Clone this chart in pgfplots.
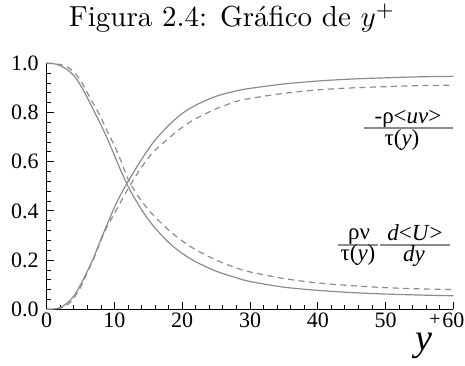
\documentclass[border=0pt]{standalone}
\usepackage{fontspec}
\usepackage{graphicx}
\usepackage{pgfplots}
\pgfplotsset{compat=1.18}
\newfontfamily\timesfont{Liberation Serif}
\definecolor{curvegray}{RGB}{140,140,140}

% viscous stress fraction (solid) and its dashed counterpart
\pgfplotstableread{
x y
0 1.0
1 0.999
2 0.99
3 0.975
4 0.95
5 0.91
6 0.86
7 0.805
8 0.75
9 0.69
10 0.625
11 0.56
12 0.50
13 0.45
14 0.405
15 0.365
16 0.33
17 0.30
18 0.272
19 0.248
20 0.227
22 0.193
25 0.155
28 0.128
30 0.113
35 0.09
40 0.077
45 0.068
50 0.062
55 0.058
60 0.055
}\viscsolid
\pgfplotstableread{
x y
0 1.0
2 0.995
3 0.985
4 0.965
5 0.93
6 0.88
7 0.83
8 0.78
9 0.72
10 0.665
11 0.60
12 0.53
13 0.48
14 0.44
15 0.405
16 0.375
18 0.322
20 0.278
22 0.242
25 0.20
28 0.168
30 0.152
35 0.125
40 0.107
45 0.096
50 0.088
55 0.083
60 0.08
}\viscdash
% turbulent (Reynolds) stress fraction
\pgfplotstableread{
x y
0 0.0
1 0.001
2 0.007
3 0.025
4 0.054
5 0.10
6 0.155
7 0.215
8 0.285
9 0.35
10 0.415
11 0.47
12 0.52
13 0.565
14 0.61
15 0.65
16 0.688
18 0.748
20 0.796
22 0.83
25 0.866
28 0.888
30 0.898
35 0.916
40 0.928
45 0.936
50 0.941
55 0.945
60 0.947
}\turbsolid
\pgfplotstableread{
x y
0 0.0
2 0.004
3 0.018
4 0.045
5 0.09
6 0.15
7 0.21
8 0.28
9 0.34
10 0.39
11 0.44
12 0.49
13 0.535
14 0.578
15 0.615
16 0.647
18 0.695
20 0.74
22 0.775
25 0.815
28 0.845
30 0.857
35 0.878
40 0.892
45 0.90
50 0.905
55 0.909
60 0.911
}\turbdash

\begin{document}
\begin{tikzpicture}[x=1pt,y=1pt]
\useasboundingbox (0,0) rectangle (465,366);
\node[anchor=base, inner sep=0pt] at (232,339) {\scalebox{2.9}{Figura 2.4: Gráfico de $y^+$}};
\begin{axis}[
  at={(46.7pt,56.7pt)}, anchor=south west,
  scale only axis, width=406.6pt, height=246pt,
  xmin=0, xmax=60, ymin=0, ymax=1,
  axis x line=bottom, axis y line=left,
  axis line style={-, line width=1pt, black},
  xtick={0,10,20,30,40,50,60}, ytick={0,0.2,0.4,0.6,0.8,1},
  minor x tick num=4, minor y tick num=4,
  tick align=inside,
  major tick length=7pt, minor tick length=4pt,
  every tick/.style={black, line width=0.8pt},
  /pgf/number format/assume math mode=true,
  tick label style={font=\timesfont\fontsize{22}{24}\selectfont, inner sep=0pt},
  xticklabel style={yshift=-3pt},
  yticklabel style={xshift=-8pt, /pgf/number format/fixed, /pgf/number format/fixed zerofill, /pgf/number format/precision=1},
  clip=false,
]
\addplot[curvegray, line width=1.2pt, smooth] table {\viscsolid};
\addplot[curvegray, line width=1.2pt, smooth, dash pattern=on 6pt off 4.5pt] table {\viscdash};
\addplot[curvegray, line width=1.2pt, smooth] table {\turbsolid};
\addplot[curvegray, line width=1.2pt, smooth, dash pattern=on 6pt off 4.5pt] table {\turbdash};
\end{axis}
% curve labels
\node[anchor=base, inner sep=0pt, font=\timesfont\fontsize{23}{25}\selectfont] at (408,242) {-ρ<\textit{uv}>};
\draw[curvegray, line width=1.2pt] (364,238) -- (453,238);
\node[anchor=base, inner sep=0pt, font=\timesfont\fontsize{23}{25}\selectfont] at (402,220) {τ(\textit{y})};
\node[anchor=base, inner sep=0pt, font=\timesfont\fontsize{23}{25}\selectfont] at (359,126) {ρν};
\draw[curvegray, line width=1.2pt] (338,121) -- (378,121);
\node[anchor=base, inner sep=0pt, font=\timesfont\fontsize{23}{25}\selectfont] at (358,105) {τ(\textit{y})};
\node[anchor=base, inner sep=0pt, font=\timesfont\fontsize{23}{25}\selectfont] at (415,125) {\textit{d}<\textit{U}>};
\draw[curvegray, line width=1.2pt] (380,121) -- (450,121);
\node[anchor=base, inner sep=0pt, font=\timesfont\fontsize{23}{25}\selectfont] at (414,104) {\textit{dy}};
% axis name
\node[anchor=base, inner sep=0pt, font=\timesfont\fontsize{38}{40}\selectfont] at (424,15) {\textit{y}};
\node[inner sep=0pt, font=\timesfont\fontsize{20}{22}\selectfont] at (435,46) {+};
\end{tikzpicture}
\end{document}
